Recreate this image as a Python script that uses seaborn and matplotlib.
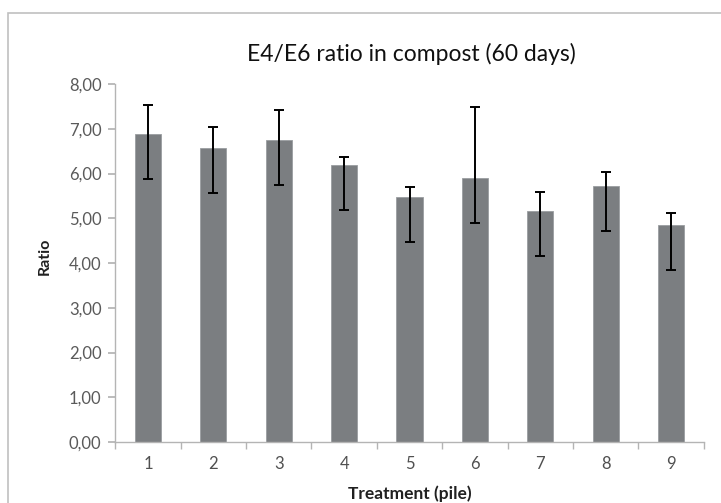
import matplotlib
matplotlib.use("Agg")
import matplotlib.pyplot as plt
import seaborn as sns
import pandas as pd
from matplotlib.patches import Rectangle
from matplotlib.ticker import FixedLocator, FuncFormatter

# E4/E6 absorbance ratio per compost pile after 60 days
piles = ["1", "2", "3", "4", "5", "6", "7", "8", "9"]
ratio = [6.88, 6.56, 6.75, 6.19, 5.47, 5.90, 5.16, 5.72, 4.84]
err_upper = [0.66, 0.47, 0.66, 0.19, 0.22, 1.58, 0.42, 0.32, 0.27]
err_lower = [1.00, 1.00, 1.00, 1.00, 1.00, 1.00, 1.00, 1.00, 1.00]
y_ticks = [0, 1, 2, 3, 4, 5, 6, 7, 8]

sns.set_theme(style="white")
plt.rcParams["font.family"] = ["Lato", "DejaVu Sans"]

df = pd.DataFrame({"pile": piles, "ratio": ratio})

fig = plt.figure(figsize=(7.21, 5.03), dpi=100)
ax = fig.add_axes([0.160, 0.121, 0.816, 0.712])

sns.barplot(data=df, x="pile", y="ratio", color="#7b7e81", width=0.4,
            saturation=1, edgecolor="#9a9da0", linewidth=0.6, ax=ax)
ax.errorbar(range(len(piles)), ratio, yerr=[err_lower, err_upper],
            fmt="none", ecolor="black", elinewidth=1.4, capsize=3.5,
            capthick=1.4, zorder=5)

ax.set_xlim(-0.5, len(piles) - 0.5)
ax.set_ylim(0, 8)
ax.yaxis.set_major_locator(FixedLocator(y_ticks))
ax.yaxis.set_major_formatter(FuncFormatter(lambda v, p: f"{v:.2f}".replace(".", ",")))

for side in ["top", "right"]:
    ax.spines[side].set_visible(False)
for side in ["left", "bottom"]:
    ax.spines[side].set_color("#b4b4b4")
    ax.spines[side].set_linewidth(1.0)

# category separators on the x axis, as in spreadsheet charts
ax.xaxis.set_minor_locator(FixedLocator([i - 0.5 for i in range(len(piles) + 1)]))
ax.tick_params(axis="x", which="major", length=0, pad=10, labelsize=12,
               labelcolor="#505050")
ax.tick_params(axis="x", which="minor", bottom=True, length=5, color="#b4b4b4",
               direction="out")
ax.tick_params(axis="y", which="major", left=True, length=5, color="#b4b4b4",
               direction="out", labelsize=12, labelcolor="#5a5a5a", pad=5)

ax.set_xlabel("")
ax.set_ylabel("")
fig.text(0.062, 0.49, "Ratio", rotation=90, ha="center", va="center",
         fontsize=11.5, fontweight="bold", color="#202020")
fig.text(0.568, 0.002, "Treatment (pile)", ha="center", va="bottom",
         fontsize=12.5, fontweight="bold", color="#202020")
fig.text(0.570, 0.893, "E4/E6 ratio in compost (60 days)", ha="center",
         va="center", fontsize=16.5, color="#101010")

# outer chart frame, running off the right and bottom edges
fig.patches.append(Rectangle((0.011, -0.1), 1.2, 1.075, transform=fig.transFigure,
                             fill=False, edgecolor="#c0c0c0", linewidth=1.2))

fig.savefig("out.png", dpi=100)
